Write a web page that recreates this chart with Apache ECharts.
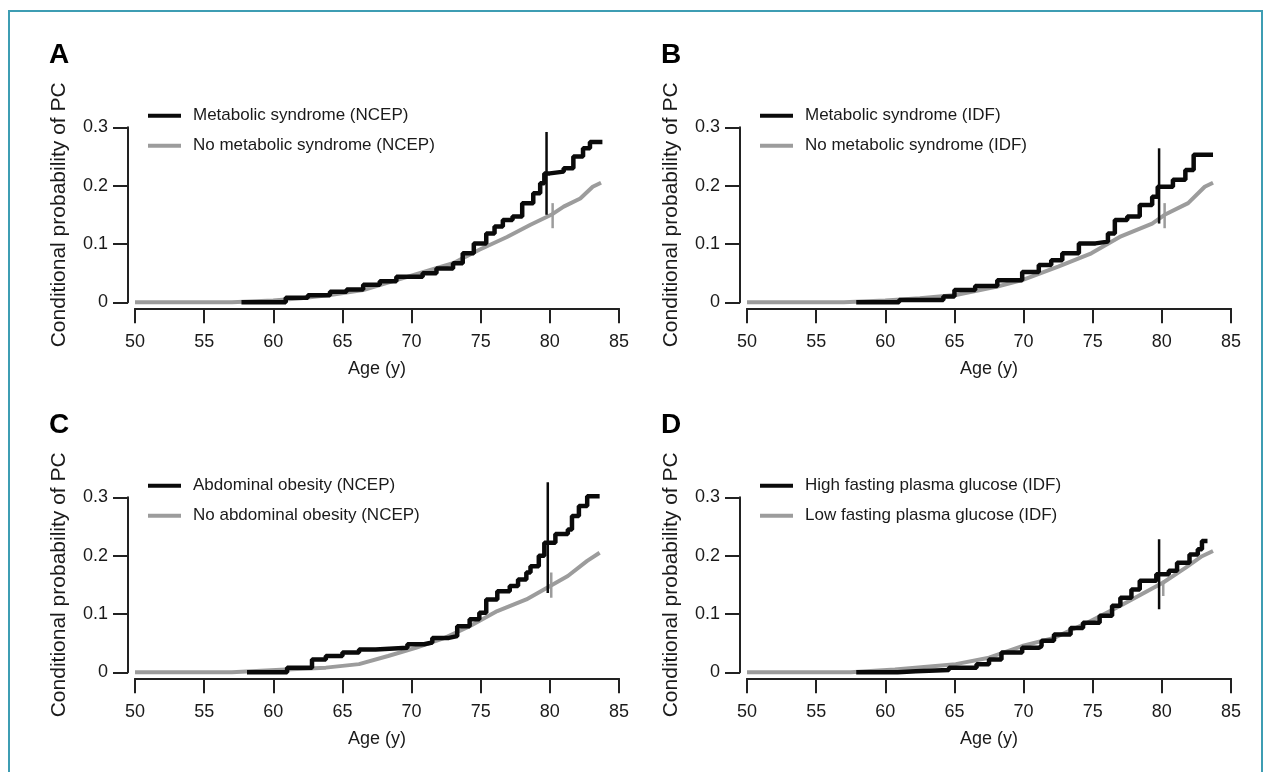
<!DOCTYPE html>
<html><head><meta charset="utf-8">
<script src="https://cdn.jsdelivr.net/npm/echarts/dist/echarts.min.js"></script>
<style>html,body{margin:0;padding:0;background:#fff}#c{width:1270px;height:772px}</style>
</head><body><div id="c"></div>
<script>
// ---- data ----
const panelLetters = ['A', 'B', 'C', 'D'];
const xTicks = [50, 55, 60, 65, 70, 75, 80, 85];
const yTicks = [0, 0.1, 0.2, 0.3];
const xTitle = 'Age (y)';
const yTitle = 'Conditional probability of PC';
const legendBlack = ['Metabolic syndrome (NCEP)', 'Metabolic syndrome (IDF)', 'Abdominal obesity (NCEP)', 'High fasting plasma glucose (IDF)'];
const legendGray = ['No metabolic syndrome (NCEP)', 'No metabolic syndrome (IDF)', 'No abdominal obesity (NCEP)', 'Low fasting plasma glucose (IDF)'];

// [age, conditional probability]
const blackA = [[57.7,0],[60.9,0.008],[62.5,0.012],[64.1,0.018],[65.3,0.022],[66.5,0.03],[67.7,0.036],[68.9,0.044],[70.8,0.05],[71.8,0.058],[73.0,0.067],[73.7,0.084],[74.5,0.101],[75.4,0.118],[76.0,0.13],[76.6,0.141],[77.3,0.147],[78.0,0.17],[78.8,0.187],[79.3,0.204],[79.6,0.221],[80.0,0.224],[81.0,0.23],[81.7,0.25],[82.4,0.264],[82.9,0.275],[83.8,0.275]];
const grayA = [[50,0],[57,0],[60,0.003],[62,0.007],[64.1,0.0125],[66.5,0.021],[68.9,0.038],[71.3,0.055],[73.0,0.067],[74.9,0.09],[76.9,0.112],[78.6,0.133],[80.1,0.15],[81.0,0.164],[82.2,0.178],[83.1,0.198],[83.7,0.205]];
const blackB = [[57.9,0],[61,0.004],[64.2,0.01],[65.0,0.021],[66.5,0.028],[68.1,0.038],[69.9,0.052],[71.1,0.064],[72.0,0.072],[72.8,0.084],[74.0,0.101],[75.2,0.104],[76.1,0.118],[76.6,0.141],[77.5,0.147],[78.4,0.167],[79.3,0.181],[79.7,0.198],[80.8,0.21],[81.7,0.227],[82.3,0.253],[83.7,0.253]];
const grayB = [[50,0],[57,0],[60,0.003],[62.5,0.007],[65.1,0.0125],[68.1,0.027],[69.9,0.038],[72.5,0.061],[74.9,0.084],[76.95,0.112],[79.3,0.135],[80.2,0.15],[81.9,0.17],[83.1,0.198],[83.7,0.205]];
const blackC = [[58.1,0],[61.0,0.008],[62.8,0.022],[63.8,0.028],[65.0,0.034],[66.2,0.039],[67.4,0.042],[69.7,0.048],[70.9,0.051],[71.5,0.059],[72.7,0.062],[73.3,0.079],[74.2,0.091],[74.9,0.102],[75.4,0.125],[76.2,0.139],[77.1,0.148],[77.7,0.159],[78.3,0.171],[78.6,0.182],[79.2,0.2],[79.6,0.222],[80.4,0.237],[81.3,0.245],[81.6,0.268],[82.1,0.285],[82.7,0.302],[83.6,0.302]];
const grayC = [[50,0],[57,0],[60.9,0.005],[63.8,0.008],[66.2,0.014],[68.3,0.028],[70.3,0.042],[72.4,0.059],[74.2,0.079],[76.2,0.105],[78.3,0.125],[79.8,0.145],[81.3,0.165],[82.7,0.191],[83.6,0.205]];
const blackD = [[57.9,0],[60.9,0.002],[62.2,0.004],[64.6,0.008],[66.6,0.014],[67.5,0.022],[68.4,0.034],[69.9,0.042],[71.1,0.045],[71.3,0.054],[72.2,0.065],[73.4,0.076],[74.3,0.085],[75.5,0.097],[76.4,0.114],[77.0,0.128],[77.8,0.142],[78.4,0.157],[79.6,0.168],[80.5,0.174],[81.1,0.188],[82.0,0.202],[82.6,0.211],[82.9,0.225],[83.3,0.225]];
const grayD = [[50,0],[57.5,0],[60.7,0.005],[65.1,0.014],[67.5,0.025],[69.9,0.045],[72.2,0.059],[74.6,0.085],[77.0,0.114],[78.7,0.136],[80.1,0.154],[81.7,0.179],[82.9,0.199],[83.7,0.208]];
// vertical marks at 80 y: [age, low, high]
const markBlack = [[79.76,0.150,0.292],[79.8,0.135,0.264],[79.85,0.136,0.326],[79.8,0.108,0.228]];
const markGray = [[80.2,0.127,0.170],[80.2,0.127,0.170],[80.1,0.128,0.171],[80.1,0.131,0.157]];

const blackSeries = [blackA, blackB, blackC, blackD];
const graySeries = [grayA, grayB, grayC, grayD];

// ---- layout ----
const FONT = "'Liberation Sans', Arial, Helvetica, sans-serif";
const TXT = '#1a1a1a';
const BLACK = '#0a0a0a';
const GRAY = '#9c9c9c';
const origins = [[135, 127.3], [747, 127.3], [135, 497.3], [747, 497.3]];
const GW = 484, GH = 175;

const grids = [], xAxes = [], yAxes = [], series = [], legends = [], titles = [];
origins.forEach(([l, t], i) => {
  grids.push({ left: l, top: t, width: GW, height: GH, containLabel: false, outerBoundsMode: 'none' });
  xAxes.push({
    gridIndex: i, type: 'value', min: xTicks[0], max: xTicks[xTicks.length - 1], interval: xTicks[1] - xTicks[0],
    offset: 6,
    axisLine: { show: true, onZero: false, lineStyle: { color: '#222', width: 2 } },
    axisTick: { show: true, length: 15, lineStyle: { color: '#222', width: 2 } },
    axisLabel: { fontSize: 18, color: TXT, margin: 25, fontFamily: FONT, showMinLabel: true, showMaxLabel: true, hideOverlap: false },
    splitLine: { show: false },
    name: xTitle, nameLocation: 'middle', nameGap: 52,
    nameTextStyle: { fontSize: 18, color: TXT, fontFamily: FONT }
  });
  yAxes.push({
    gridIndex: i, type: 'value', min: yTicks[0], max: yTicks[yTicks.length - 1], interval: yTicks[1] - yTicks[0],
    offset: 7,
    axisLine: { show: true, onZero: false, lineStyle: { color: '#222', width: 2 } },
    axisTick: { show: true, length: 15, lineStyle: { color: '#222', width: 2 } },
    axisLabel: { fontSize: 18, color: TXT, margin: 20, fontFamily: FONT, showMinLabel: true, showMaxLabel: true,
      formatter: v => (v === 0 ? '0' : v.toFixed(1)) },
    splitLine: { show: false },
    name: yTitle, nameLocation: 'middle', nameGap: 58, nameRotate: 90,
    nameTextStyle: { fontSize: 21, color: TXT, fontFamily: FONT }
  });
  series.push({
    name: legendGray[i], type: 'line', xAxisIndex: i, yAxisIndex: i, data: graySeries[i],
    showSymbol: false, symbol: 'none', clip: false, silent: true,
    itemStyle: { color: GRAY }, lineStyle: { color: GRAY, width: 4 }, z: 2
  });
  series.push({
    name: legendBlack[i], type: 'line', step: 'end', xAxisIndex: i, yAxisIndex: i, data: blackSeries[i],
    showSymbol: false, symbol: 'none', clip: false, silent: true,
    itemStyle: { color: BLACK }, lineStyle: { color: BLACK, width: 4.5 }, z: 3
  });
  const mb = markBlack[i], mg = markGray[i];
  series.push({
    type: 'line', xAxisIndex: i, yAxisIndex: i, data: [[mg[0], mg[1]], [mg[0], mg[2]]],
    showSymbol: false, symbol: 'none', clip: false, silent: true,
    lineStyle: { color: GRAY, width: 2.5 }, z: 4
  });
  series.push({
    type: 'line', xAxisIndex: i, yAxisIndex: i, data: [[mb[0], mb[1]], [mb[0], mb[2]]],
    showSymbol: false, symbol: 'none', clip: false, silent: true,
    lineStyle: { color: BLACK, width: 2.5 }, z: 5
  });
  legends.push({
    data: [legendBlack[i], legendGray[i]], orient: 'vertical', left: l + 13, top: t - 21.6,
    icon: 'rect', itemWidth: 33, itemHeight: 4, itemGap: 10, padding: 0, selectedMode: false,
    textStyle: { fontSize: 17, lineHeight: 20, color: TXT, fontFamily: FONT, padding: [0, 0, 0, 7] }
  });
  titles.push({
    text: panelLetters[i], left: l - 86, top: t - 86, padding: 0,
    textStyle: { fontSize: 28, fontWeight: 'bold', color: '#000', fontFamily: FONT }
  });
});

const chart = echarts.init(document.getElementById('c'), null, { renderer: 'canvas' });
chart.setOption({
  animation: false,
  backgroundColor: '#fff',
  textStyle: { fontFamily: FONT },
  title: titles,
  legend: legends,
  grid: grids,
  xAxis: xAxes,
  yAxis: yAxes,
  series: series,
  graphic: [{
    type: 'rect', silent: true, z: 100,
    shape: { x: 9, y: 11, width: 1253, height: 820 },
    style: { fill: 'none', stroke: '#3e9db3', lineWidth: 2 }
  }]
});
</script></body></html>
